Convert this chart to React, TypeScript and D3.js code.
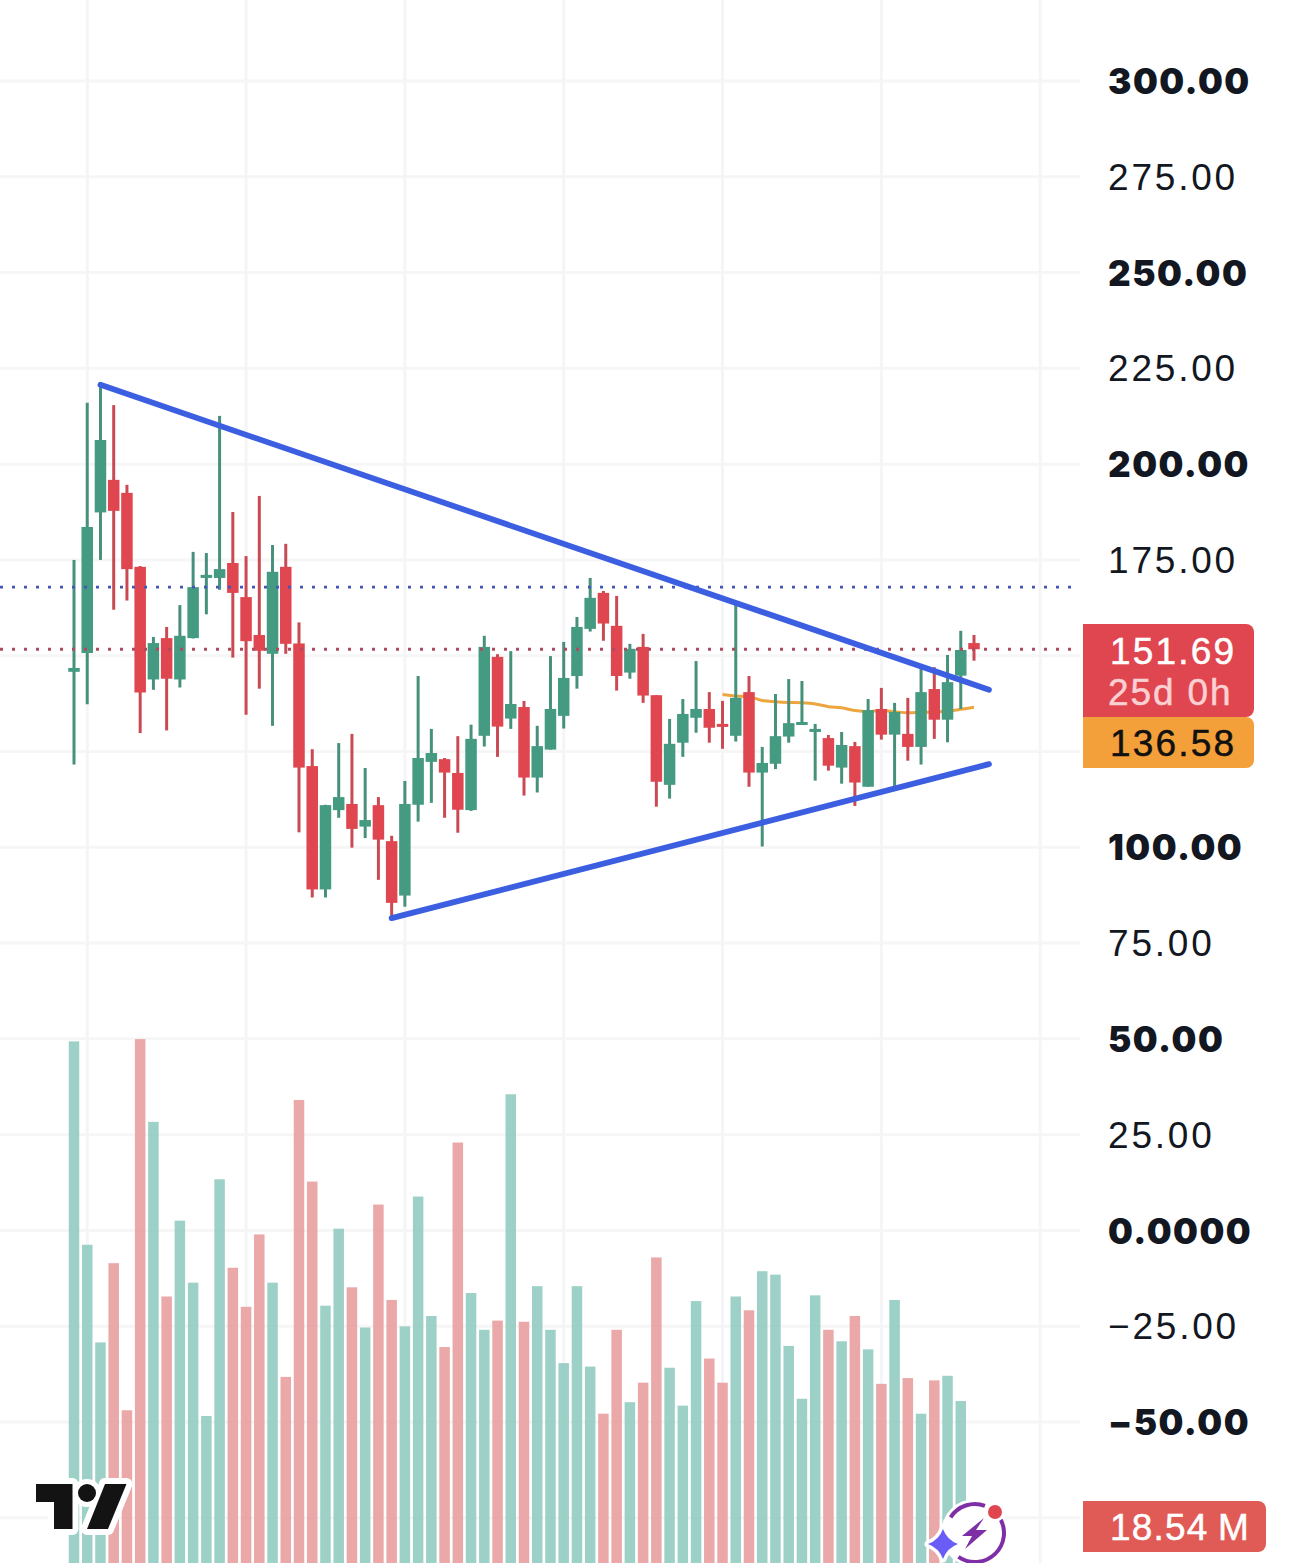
import { useEffect, useRef } from "react";
import * as d3 from "d3";

const opens = [145.8,150.7,187.4,195.9,192.5,173.2,143.8,154.6,143.8,154.6,170.3,170.3,174.2,165.3,155.4,150.5,173.2,153.2,121.2,89.0,109.7,111.3,105.4,111.0,101.6,87.4,111.1,122.3,123.0,119.4,109.7,129.1,149.7,133.6,136.6,118.2,125.5,134.3,144.7,157.0,166.4,157.8,145.6,152.3,139.7,116.3,127.3,133.8,136.1,132.2,129.1,140.5,119.5,121.8,128.9,132.0,130.1,128.5,120.8,126.4,115.8,136.1,129.4,129.6,126.2,141.3,133.3,144.8,153.3];
const closes = [146.8,183.6,206.3,187.8,172.6,140.4,153.3,144.0,155.2,167.9,171.1,172.6,166.4,153.8,151.3,171.9,153.1,120.8,89.0,111.0,113.1,104.8,107.1,102.0,85.5,111.3,123.3,124.6,119.5,109.8,128.3,152.3,131.5,137.4,118.2,126.4,136.1,144.2,157.5,165.1,158.4,144.7,151.8,139.6,117.1,127.0,134.8,136.1,131.2,131.5,139.0,119.5,122.0,129.0,132.4,132.7,130.9,121.3,126.7,116.9,135.8,129.4,135.3,126.2,140.5,133.3,143.1,151.5,151.69];
const highs = [175.0,216.0,220.7,215.4,194.6,173.4,154.9,157.5,163.2,177.1,176.8,212.6,187.5,176.0,191.7,178.9,179.2,158.7,125.6,111.1,127.2,129.6,120.7,113.1,103.0,117.3,144.7,130.9,123.3,129.0,132.0,155.2,150.4,151.2,138.2,131.7,149.9,153.6,160.1,170.3,166.9,165.6,153.1,155.7,139.7,133.5,138.7,148.6,140.5,138.2,164.0,144.7,126.2,140.0,143.9,143.4,132.2,129.3,130.1,127.5,138.7,141.6,137.7,139.0,147.3,147.0,150.2,156.5,155.4];
const lows = [121.6,137.3,175.0,162.0,164.4,129.8,141.1,130.5,141.7,154.5,160.8,167.2,149.5,134.6,141.4,131.7,150.5,103.9,86.9,86.9,107.7,99.9,102.4,91.5,82.1,84.5,106.7,111.6,107.7,103.8,109.5,126.3,123.6,130.9,113.5,114.3,125.5,131.0,141.4,156.3,153.9,140.9,144.0,137.7,110.6,112.7,123.6,129.9,127.3,125.7,127.6,115.8,100.2,120.4,127.3,132.0,117.4,120.0,116.6,110.8,115.8,128.1,115.8,122.6,121.6,128.3,127.4,136.1,148.7];
// volume in millions, the last bar sits behind the bolt icon
const volumes = [60.8,43.1,34.6,41.5,28.7,61.0,53.8,38.6,45.2,39.8,28.2,48.8,41.1,37.7,44.0,39.8,31.6,55.7,48.6,37.8,44.5,39.4,35.9,46.6,38.3,36.0,47.3,36.9,34.2,52.0,38.9,35.7,36.5,56.2,36.4,39.5,35.7,32.8,39.5,32.5,28.4,35.7,29.4,31.1,42.0,32.4,29.1,38.2,33.2,31.1,38.6,37.4,40.8,40.5,34.3,29.7,38.7,35.7,34.7,36.9,34.0,31.0,38.3,31.5,28.4,31.3,31.7,29.5,18.54];

const maStart = 49;
const maValues = [139.9,139.5,139.3,138.3,138.0,137.8,137.7,137.4,136.7,136.4,135.7,135.4,135.7,135.4,135.1,135.2,135.3,135.5,136.0,136.58];

const priceTicks = [300,275,250,225,200,175,150,125,100,75,50,25,0,-25,-50,-75];
const tickLabels = ["300.00","275.00","250.00","225.00","200.00","175.00","","","100.00","75.00","50.00","25.00","0.0000","\u221225.00","\u221250.00",""];
const boldLabels = ["300.00","250.00","200.00","100.00","50.00","0.0000","\u221250.00"];
const timeGrid = [1,13,25,37,49,61,73];

const upperTrend: [number, number][] = [[2,220.7],[69.13,141.1]];
const lowerTrend: [number, number][] = [[24,81.5],[69.13,121.7]];
const lastPrice = 151.69;
const bluePrice = 167.9;

const GREEN = "#459a82";
const RED = "#e0464f";

export default function App() {
  const svgRef = useRef<SVGSVGElement>(null);

  useEffect(() => {
    if (!svgRef.current) return;
    const svg = d3.select(svgRef.current);
    svg.selectAll("*").remove();

    const x = d3.scaleLinear().domain([0, 68]).range([74, 974]);
    const y = d3.scaleLinear().domain([300, -50]).range([81, 1422]);
    const yVol = d3.scaleLinear().domain([0, 100]).range([1740, 591]);

    // grid
    svg.append("g").selectAll("line").data(priceTicks).enter().append("line")
      .attr("x1", 0).attr("x2", 1080)
      .attr("y1", d => y(d)).attr("y2", d => y(d))
      .attr("stroke", "#f6f6f7").attr("stroke-width", 3);
    svg.append("g").selectAll("line").data(timeGrid).enter().append("line")
      .attr("x1", d => x(d)).attr("x2", d => x(d))
      .attr("y1", 0).attr("y2", 1563)
      .attr("stroke", "#f5f5f7").attr("stroke-width", 3);

    // volume
    svg.append("g").selectAll("rect").data(volumes).enter().append("rect")
      .attr("x", (_, i) => x(i) - 5.25)
      .attr("y", d => yVol(d))
      .attr("width", 10.5)
      .attr("height", d => yVol(0) - yVol(d))
      .attr("fill", (_, i) => closes[i] >= opens[i] ? "#8fc9bf" : "#e89c9c")
      .attr("opacity", 0.88);

    // moving average
    const maLine = d3.line<number>().x((_, i) => x(i + maStart)).y(d => y(d)).curve(d3.curveMonotoneX);
    svg.append("path").attr("d", maLine(maValues))
      .attr("fill", "none").attr("stroke", "#eda63f").attr("stroke-width", 3);

    // candles
    const candles = svg.append("g").selectAll("g").data(opens).enter().append("g");
    const colour = (i: number) => closes[i] >= opens[i] ? GREEN : RED;
    candles.append("line")
      .attr("x1", (_, i) => x(i)).attr("x2", (_, i) => x(i))
      .attr("y1", (_, i) => y(highs[i])).attr("y2", (_, i) => y(lows[i]))
      .attr("stroke", (_, i) => closes[i] >= opens[i] ? "#47907b" : "#c94a52")
      .attr("stroke-width", 3);
    candles.append("rect")
      .attr("x", (_, i) => x(i) - 5.75)
      .attr("y", (d, i) => y(Math.max(d, closes[i])))
      .attr("width", 11.5)
      .attr("height", (d, i) => Math.max(3, Math.abs(y(d) - y(closes[i]))))
      .attr("fill", (_, i) => colour(i));

    // price lines
    svg.append("line").attr("x1", 0).attr("x2", 1072)
      .attr("y1", y(bluePrice)).attr("y2", y(bluePrice))
      .attr("stroke", "#4457b8").attr("stroke-width", 2.8).attr("stroke-dasharray", "3 9");
    svg.append("line").attr("x1", 0).attr("x2", 1072)
      .attr("y1", y(lastPrice)).attr("y2", y(lastPrice))
      .attr("stroke", "#b04a5e").attr("stroke-width", 2.8).attr("stroke-dasharray", "3 9");

    // triangle
    const trend = d3.line<[number, number]>().x(d => x(d[0])).y(d => y(d[1]));
    [upperTrend, lowerTrend].forEach(t => {
      svg.append("path").attr("d", trend(t))
        .attr("fill", "none").attr("stroke", "#3c5fe2").attr("stroke-width", 5.8).attr("stroke-linecap", "round");
    });

    // price axis
    const axis = d3.axisRight(y).tickValues(priceTicks).tickSize(0)
      .tickFormat((_, i) => tickLabels[i]);
    const axisG = svg.append("g").attr("transform", "translate(1108,0)").call(axis);
    axisG.select(".domain").remove();
    axisG.selectAll<SVGTextElement, number>("text")
      .attr("x", 0).attr("dy", "0.335em")
      .attr("fill", "#131722")
      .style("font-family", "'Liberation Sans', sans-serif")
      .style("font-size", "37px")
      .style("letter-spacing", "2.8px")
      .filter(function () { return boldLabels.includes(this.textContent || ""); })
      .attr("dy", "0.36em")
      .style("font-family", "Inter, sans-serif")
      .style("font-weight", "900")
      .style("font-size", "35px")
      .style("letter-spacing", "1.5px");

    // price tags
    const tag = (yTop: number, h: number, w: number, fill: string) => {
      const r = 8, x0 = 1083;
      svg.append("path")
        .attr("d", `M${x0},${yTop}H${x0 + w - r}a${r},${r} 0 0 1 ${r},${r}V${yTop + h - r}a${r},${r} 0 0 1 ${-r},${r}H${x0}Z`)
        .attr("fill", fill);
    };
    const tagText = (txt: string, tx: number, ty: number, fill: string, spacing = 2.2) => {
      svg.append("text").text(txt).attr("x", tx).attr("y", ty)
        .attr("fill", fill)
        .attr("stroke", fill).attr("stroke-width", 0.5)
        .style("font-family", "'Liberation Sans', sans-serif")
        .style("font-size", "37px")
        .style("letter-spacing", `${spacing}px`);
    };
    tag(624, 93, 171, RED);
    tag(717, 51, 171, "#f3a03a");
    tag(1501, 51, 183, "#e05b55");
    tagText("151.69", 1110, 664, "#ffffff");
    tagText("25d 0h", 1108, 705, "#fbd0d2", 1.9);
    tagText("136.58", 1110, 756, "#111111");
    tagText("18.54", 1110, 1540, "#ffffff", 1.2);
    tagText("M", 1218, 1540, "#ffffff", 0);

    // TradingView mark
    const logo = svg.append("g");
    const logoT = "M36,1484H72.5V1529H54V1502H36Z";
    const logoSlash = "M105,1484H126.5L108,1529H87Z";
    [logoT, logoSlash].forEach(d => {
      logo.append("path").attr("d", d).attr("fill", "#fff").attr("stroke", "#fff").attr("stroke-width", 12).attr("stroke-linejoin", "round");
    });
    logo.append("circle").attr("cx", 87).attr("cy", 1493).attr("r", 14).attr("fill", "#fff");
    logo.append("path").attr("d", logoT).attr("fill", "#131313");
    logo.append("path").attr("d", logoSlash).attr("fill", "#131313");
    logo.append("circle").attr("cx", 87).attr("cy", 1493).attr("r", 9).attr("fill", "#131313");

    // bolt badge
    const badge = svg.append("g");
    badge.append("circle").attr("cx", 975).attr("cy", 1533).attr("r", 34).attr("fill", "#fff");
    const ring = d3.arc();
    badge.append("path").attr("transform", "translate(975,1533)")
      .attr("d", ring({ innerRadius: 27, outerRadius: 31, startAngle: -1.0, endAngle: 0.35 }) as string)
      .attr("fill", "#7f2fa6");
    badge.append("path").attr("transform", "translate(975,1533)")
      .attr("d", ring({ innerRadius: 27, outerRadius: 31, startAngle: 1.0, endAngle: 3.75 }) as string)
      .attr("fill", "#7f2fa6");
    badge.append("path").attr("d", "M984,1518L962,1536H972L965,1549L987,1530H976Z").attr("fill", "#7f2fa6");
    badge.append("circle").attr("cx", 995).attr("cy", 1512).attr("r", 10).attr("fill", "#fff");
    badge.append("circle").attr("cx", 995).attr("cy", 1512).attr("r", 7).attr("fill", RED);
    const star = "M943,1529Q947,1540 958,1544Q947,1548 943,1559Q939,1548 928,1544Q939,1540 943,1529Z";
    badge.append("path").attr("d", star).attr("fill", "#fff").attr("stroke", "#fff").attr("stroke-width", 7).attr("stroke-linejoin", "round");
    badge.append("path").attr("d", star).attr("fill", "#6a5cf6");
  }, []);

  return (
    <svg
      ref={svgRef}
      width={1290}
      height={1563}
      style={{ position: "absolute", left: 0, top: 0, display: "block", background: "#fff" }}
    />
  );
}
